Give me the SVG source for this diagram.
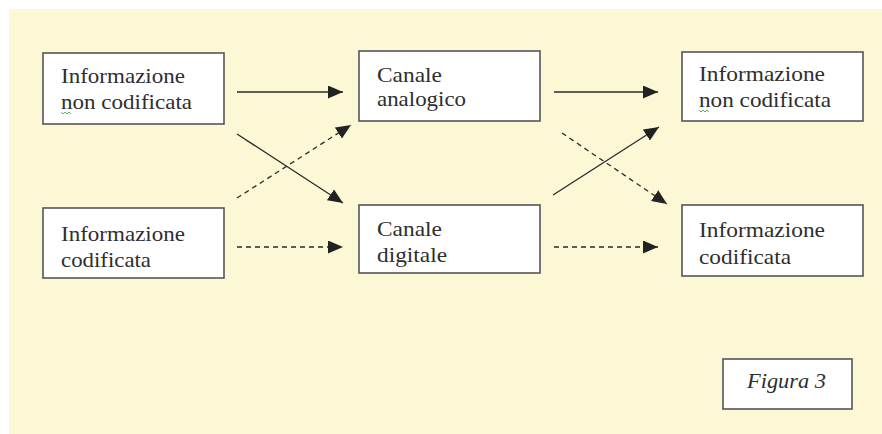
<svg xmlns="http://www.w3.org/2000/svg" width="882" height="434" viewBox="0 0 882 434">
<style>
.box{fill:#ffffff;stroke:#555555;stroke-width:1.6}
.t{font-family:"Liberation Serif","DejaVu Serif",serif;font-size:21px;fill:#2e2e2e}
.it{font-family:"Liberation Serif","DejaVu Serif",serif;font-size:21px;font-style:italic;fill:#2e2e2e}
.ln{stroke:#2a2a2a;stroke-width:1.3;fill:none}
.d{stroke-dasharray:5,4}
.sq{stroke:#3aa03a;stroke-width:0.8;fill:none}
</style>
<defs>
<marker id="ah" viewBox="0 0 15 13" refX="15" refY="6.5" markerWidth="15" markerHeight="13" markerUnits="userSpaceOnUse" orient="auto">
<path d="M0,0 L15,6.5 L0,13 z" fill="#222222"/>
</marker>
</defs>
<rect x="9" y="9" width="873" height="425" fill="#fcf8d6"/>
<g id="n1">
<rect class="box" x="43" y="53" width="181" height="71"/>
<text class="t" x="61" y="83" textLength="124" lengthAdjust="spacingAndGlyphs">Informazione</text>
<text class="t" x="61" y="109" textLength="131" lengthAdjust="spacingAndGlyphs">non codificata</text>
<polyline class="sq" points="61,112 63,114 65,112 67,114 69,112 71,114"/>
</g>
<g id="n2">
<rect class="box" x="43" y="208" width="181" height="70"/>
<text class="t" x="61" y="241" textLength="124" lengthAdjust="spacingAndGlyphs">Informazione</text>
<text class="t" x="61" y="267" textLength="90" lengthAdjust="spacingAndGlyphs">codificata</text>
</g>
<g id="n3">
<rect class="box" x="359" y="51" width="181" height="70"/>
<text class="t" x="377" y="82" textLength="65" lengthAdjust="spacingAndGlyphs">Canale</text>
<text class="t" x="377" y="106" textLength="89" lengthAdjust="spacingAndGlyphs">analogico</text>
</g>
<g id="n4">
<rect class="box" x="359" y="205" width="181" height="68"/>
<text class="t" x="377" y="236" textLength="65" lengthAdjust="spacingAndGlyphs">Canale</text>
<text class="t" x="377" y="262" textLength="70" lengthAdjust="spacingAndGlyphs">digitale</text>
</g>
<g id="n5">
<rect class="box" x="682" y="52" width="181" height="69"/>
<text class="t" x="699" y="81" textLength="126" lengthAdjust="spacingAndGlyphs">Informazione</text>
<text class="t" x="699" y="107" textLength="132" lengthAdjust="spacingAndGlyphs">non codificata</text>
<polyline class="sq" points="699,110 701,112 703,110 705,112 707,110 709,112"/>
</g>
<g id="n6">
<rect class="box" x="682" y="205" width="181" height="71"/>
<text class="t" x="699" y="237" textLength="126" lengthAdjust="spacingAndGlyphs">Informazione</text>
<text class="t" x="699" y="264" textLength="92" lengthAdjust="spacingAndGlyphs">codificata</text>
</g>
<g id="fig">
<rect class="box" x="723" y="359" width="129" height="50"/>
<text class="it" x="747" y="388" textLength="79" lengthAdjust="spacingAndGlyphs">Figura 3</text>
</g>
<g id="connectors">
<line class="ln" x1="237" y1="92" x2="343" y2="92" marker-end="url(#ah)"/>
<line class="ln" x1="237" y1="134" x2="343" y2="203" marker-end="url(#ah)"/>
<line class="ln d" x1="237" y1="198" x2="351" y2="125" marker-end="url(#ah)"/>
<line class="ln d" x1="237" y1="247" x2="343" y2="247" marker-end="url(#ah)"/>
<line class="ln" x1="554" y1="92" x2="658" y2="92" marker-end="url(#ah)"/>
<line class="ln" x1="553" y1="195" x2="659" y2="127" marker-end="url(#ah)"/>
<line class="ln d" x1="562" y1="133" x2="667" y2="204" marker-end="url(#ah)"/>
<line class="ln d" x1="554" y1="247" x2="658" y2="247" marker-end="url(#ah)"/>
</g>
</svg>
